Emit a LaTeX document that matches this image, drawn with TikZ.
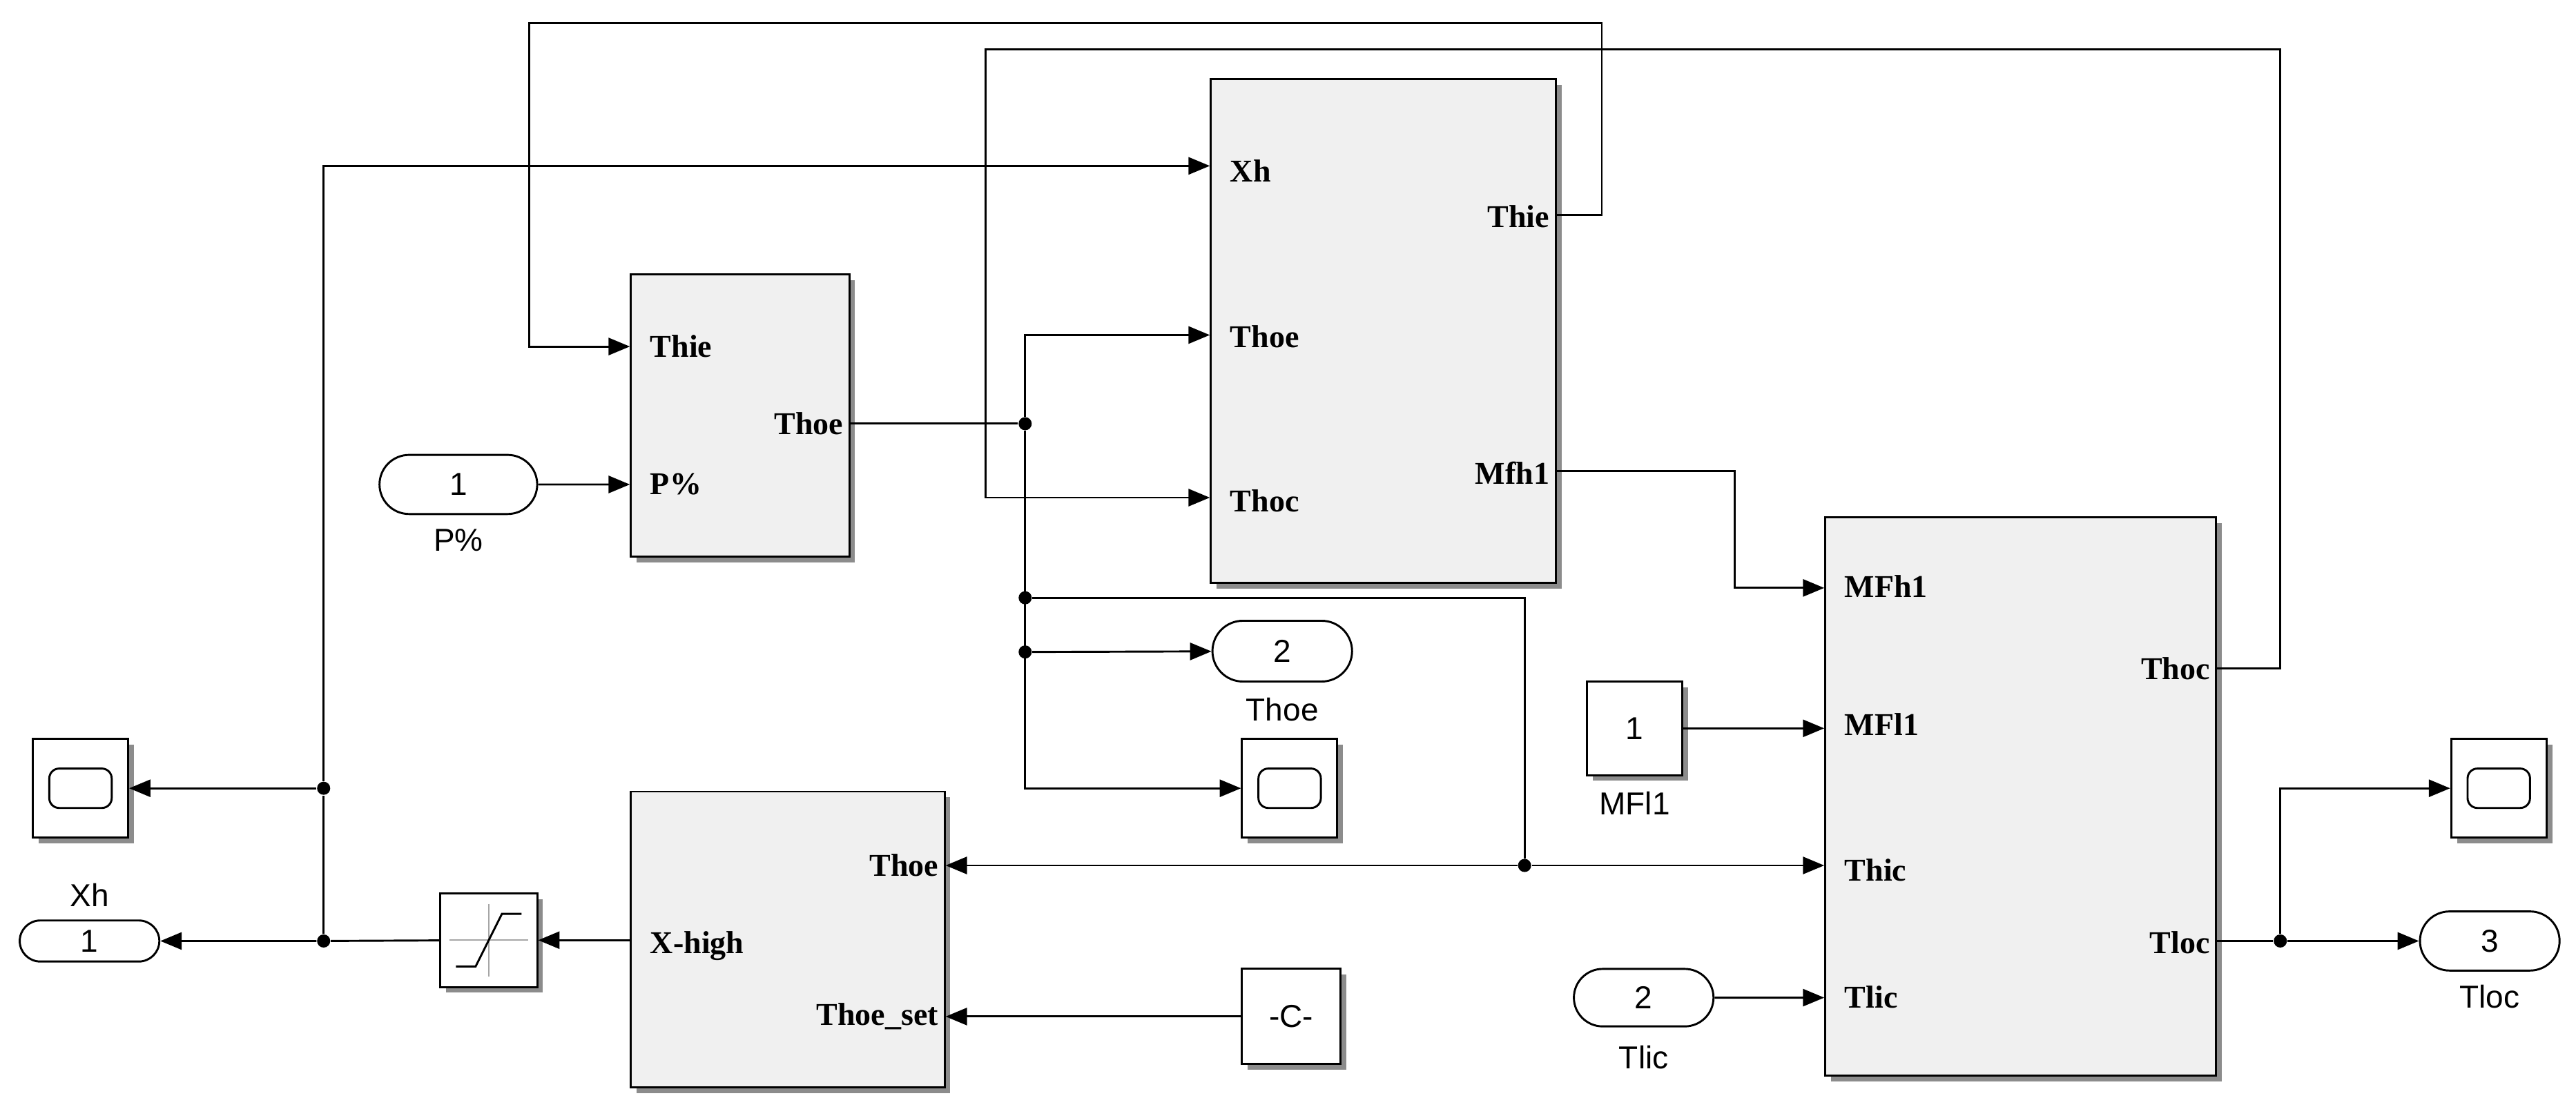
\documentclass[tikz,border=0pt]{standalone}
\usepackage{fontspec}
\setmainfont{Liberation Serif}
\newfontfamily\lab{Liberation Sans}
\usetikzlibrary{arrows.meta,shapes.misc,shadows,calc}
\tikzset{
  blk/.style={draw, line width=0.7pt, fill=black!6, inner sep=0pt,
    drop shadow={shadow xshift=0.7mm, shadow yshift=-0.7mm, fill=black!45, opacity=1}},
  port/.style={draw, line width=0.7pt, fill=white, rounded rectangle, inner sep=0pt,
    font=\lab\fontsize{11}{13}\selectfont},
  pin/.style={font=\bfseries\fontsize{11}{13}\selectfont, inner sep=2pt},
  pinin/.style={pin, anchor=west, xshift=1.6mm},
  caption/.style={font=\lab\fontsize{11}{13}\selectfont, inner sep=0pt},
  wire/.style={line width=0.7pt},
  sig/.style={wire, -{Triangle[length=2.6mm,width=2.1mm]}},
  dot/.style={circle, fill, inner sep=0pt, minimum size=1.6mm}
}
\begin{document}
\begin{tikzpicture}[x=0.02cm, y=-0.02cm]
\useasboundingbox[fill=white] (0,0) rectangle (1568,674);
% subsystems
\node (A) [blk, minimum width=2.66cm, minimum height=3.44cm] at (450.5,253) {};
\node (B) [blk, minimum width=4.2cm, minimum height=6.14cm] at (842,201.5) {};
\node (C) [blk, minimum width=4.76cm, minimum height=6.8cm] at (1230,485) {};
\node (D) [blk, minimum width=3.82cm, minimum height=3.6cm] at (479.5,572) {};
% port labels
\node[pinin] at (384,211) {Thie};
\node[pinin] at (384,295) {P\%};
\node[pin, anchor=east] at (517,258) {Thoe};
\node[pinin] at (737,104) {Xh};
\node[pinin] at (737,205) {Thoe};
\node[pinin] at (737,305) {Thoc};
\node[pin, anchor=east] at (947,132) {Thie};
\node[pin, anchor=east] at (947,288) {Mfh1};
\node[pinin] at (1111,357) {MFh1};
\node[pinin] at (1111,441) {MFl1};
\node[pinin] at (1111,530) {Thic};
\node[pinin] at (1111,607) {Tlic};
\node[pin, anchor=east] at (1349,407) {Thoc};
\node[pin, anchor=east] at (1349,574) {Tloc};
\node[pin, anchor=east] at (575,527) {Thoe};
\node[pin, anchor=east] at (575,619) {Thoe\_set};
\node[pinin] at (384,576) {X-high};
% saturation
\node (sat) [blk, fill=white, minimum width=1.18cm, minimum height=1.14cm] at (297.5,572.5) {};
\draw[black!35, line width=0.5pt] ($(sat)+(-24,0)$) -- ($(sat)+(24,0)$) ($(sat)+(0,-22)$) -- ($(sat)+(0,22)$);
\draw[line width=0.7pt] ($(sat)+(-20,16)$) -- ($(sat)+(-8,16)$) -- ($(sat)+(8,-16)$) -- ($(sat)+(20,-16)$);
% scopes
\foreach \n/\x in {S1/49, S2/785, S3/1521} {
  \node (\n) [blk, fill=white, minimum width=1.16cm, minimum height=1.2cm] at (\x,480) {};
  \draw[line width=0.7pt, rounded corners=1.2mm] ($(\n)+(-19,-12)$) rectangle ($(\n)+(19,12)$);
}
% constants
\node (K) [blk, fill=white, minimum width=1.2cm, minimum height=1.16cm, font=\lab\fontsize{11}{13}\selectfont] at (786,619) {-C-};
\node (M) [blk, fill=white, minimum width=1.16cm, minimum height=1.14cm, font=\lab\fontsize{11}{13}\selectfont] at (995,443.5) {1};
\node[caption] at (995,489) {MFl1};
% in/out ports
\node (Pin) [port, minimum width=1.92cm, minimum height=0.72cm] at (279,295) {1};
\node[caption] at (279,329) {P\%};
\node (Xo) [port, minimum width=1.7cm, minimum height=0.5cm] at (54.5,573) {1};
\node[caption] at (54.5,545) {Xh};
\node (To) [port, minimum width=1.7cm, minimum height=0.74cm] at (780.5,396.5) {2};
\node[caption] at (780.5,432) {Thoe};
\node (Tl) [port, minimum width=1.7cm, minimum height=0.7cm] at (1000.5,607.5) {2};
\node[caption] at (1000.5,644) {Tlic};
\node (Lo) [port, minimum width=1.7cm, minimum height=0.72cm] at (1515.5,573) {3};
\node[caption] at (1515.5,607) {Tloc};
% branch points
\node (d1) [dot] at (624,258) {};
\node (d2) [dot] at (624,364) {};
\node (d3) [dot] at (624,397) {};
\node (d4) [dot] at (928,527) {};
\node (d5) [dot] at (197,573) {};
\node (d6) [dot] at (197,480) {};
\node (d7) [dot] at (1388,573) {};
% wires
\draw[sig] (B.east |- 0,131) -- (975,131) -- (975,14) -- (322,14) |- (A.west |- 0,211);
\draw[sig] (Pin) -- (A.west |- Pin);
\draw[wire] (A.east |- d1) -- (d1);
\draw[sig] (d1) |- (B.west |- 0,204);
\draw[sig] (d1) |- (S2);
\draw[sig] (d3) -- (To);
\draw[wire] (d2) -- (928,364) -- (d4);
\draw[sig] (d4) -- (C.west |- d4);
\draw[sig] (d4) -- (D.east |- d4);
\draw[sig] (C.east |- 0,407) -- (1388,407) -- (1388,30) -- (600,30) |- (B.west |- 0,303);
\draw[sig] (B.east |- 0,287) -- (1056,287) |- (C.west |- 0,358);
\draw[sig] (M) -- (C.west |- M);
\draw[sig] (Tl) -- (C.west |- Tl);
\draw[sig] (K) -- (D.east |- K);
\draw[sig] (D.west |- sat) -- (sat);
\draw[wire] (sat) -- (d5);
\draw[sig] (d5) -- (Xo);
\draw[wire] (d5) -- (d6);
\draw[sig] (d6) -- (S1);
\draw[sig] (d6) |- (B.west |- 0,101);
\draw[wire] (C.east |- d7) -- (d7);
\draw[sig] (d7) -- (Lo);
\draw[sig] (d7) |- (S3);
\end{tikzpicture}
\end{document}
